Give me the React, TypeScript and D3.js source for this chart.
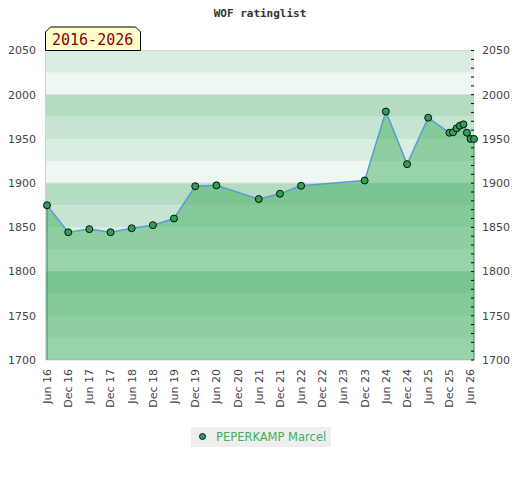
import * as d3 from 'd3';

// rating list entries, one per published list
const listDates = [
  '2016-06', '2016-12', '2017-06', '2017-12', '2018-06', '2018-12', '2019-06', '2019-12',
  '2020-06', '2021-06', '2021-12', '2022-06', '2023-12', '2024-06', '2024-12', '2025-06',
  '2025-12', '2026-01', '2026-02', '2026-03', '2026-04', '2026-05', '2026-06', '2026-07',
];
const ratings = [
  1875, 1844.5, 1848, 1844.5, 1849, 1852.5, 1860, 1896.5,
  1897.5, 1882, 1888, 1897, 1903, 1981, 1921.5, 1974,
  1957, 1957.5, 1962, 1965, 1966.5, 1957, 1950, 1950,
];

const xTicks = [
  '2016-06', '2016-12', '2017-06', '2017-12', '2018-06', '2018-12', '2019-06', '2019-12',
  '2020-06', '2020-12', '2021-06', '2021-12', '2022-06', '2022-12', '2023-06', '2023-12',
  '2024-06', '2024-12', '2025-06', '2025-12', '2026-06',
];
const yTicks = [1700, 1750, 1800, 1850, 1900, 1950, 2000, 2050];

const title = 'WOF ratinglist';
const period = '2016-2026';
const playerName = 'PEPERKAMP Marcel';

const W = 520;
const H = 480;
const margin = { top: 50.5, right: 46, bottom: 120, left: 46 };

// colours of the 25-point bands, from the top of each 100-block down
const bandColors = ['#b3dcc2', '#c6e5d1', '#daede1', '#eef7f1'];

const parse = d3.timeParse('%Y-%m');
const fmt = d3.timeFormat('%b %y');

export default function App() {
  const points = listDates.map((d, i) => ({ date: parse(d) as Date, rating: ratings[i] }));

  const x = d3.scaleTime()
    .domain(d3.extent(points, d => d.date) as [Date, Date])
    .range([margin.left + 1, W - margin.right]);

  const y = d3.scaleLinear()
    .domain([1700, 2050])
    .range([H - margin.bottom, margin.top]);

  const left = margin.left;
  const right = W - margin.right;

  const bands = d3.range(1700, 2050, 25).map(v => ({
    from: v,
    to: v + 25,
    color: bandColors[3 - ((v % 100) / 25)],
  }));

  const area = d3.area<{ date: Date; rating: number }>()
    .x(d => x(d.date))
    .y0(y(1700))
    .y1(d => y(d.rating));

  const line = d3.line<{ date: Date; rating: number }>()
    .x(d => x(d.date))
    .y(d => y(d.rating));

  const minorTicks = d3.range(1700, 2051, 10);
  const first = points[0];
  const last = points[points.length - 1];

  return (
    <svg width={W} height={H} style={{ position: 'absolute', left: 0, top: 0 }}
      fontFamily="DejaVu Sans">
      <rect width={W} height={H} fill="#fff" />

      <text x={W / 2} y={17} textAnchor="middle" fontFamily="DejaVu Sans Mono"
        fontWeight="bold" fontSize={11} fill="#333">{title}</text>

      {bands.map(b => (
        <rect key={b.from} x={left} width={right - left}
          y={y(b.to)} height={y(b.from) - y(b.to)} fill={b.color} />
      ))}

      {[1700, 1800, 1900, 2000, 2050].map(v => (
        <line key={v} x1={left} x2={right} y1={y(v)} y2={y(v)} stroke="#d4d4d4" />
      ))}
      <line x1={left - 0.5} x2={left - 0.5} y1={y(2050)} y2={y(1700)} stroke="#d4d4d4" />

      <path d={area(points) || ''} fill="rgb(61,172,90)" fillOpacity={0.48} />
      <line x1={x(first.date)} x2={x(first.date)} y1={y(first.rating)} y2={y(1700)}
        stroke="#2e8b57" />
      <line x1={x(last.date)} x2={x(last.date)} y1={y(last.rating)} y2={y(1700)}
        stroke="#2e8b57" />
      <path d={line(points) || ''} fill="none" stroke="#5b9bd5" strokeWidth={1.5} />

      {minorTicks.map(v => (
        <line key={v} x1={right - 3} x2={right} y1={y(v)} y2={y(v)} stroke="#000" />
      ))}

      {points.map((p, i) => (
        <circle key={i} cx={x(p.date)} cy={y(p.rating)} r={3.5}
          fill="#30a057" stroke="#000" strokeWidth={0.9} />
      ))}

      {yTicks.map(v => (
        <g key={v} fontSize={11} fill="#444">
          <text x={left - 10} y={y(v)} dy="0.35em" textAnchor="end">{v}</text>
          <text x={right + 8} y={y(v)} dy="0.35em" textAnchor="start">{v}</text>
        </g>
      ))}

      {xTicks.map(t => {
        const tx = x(parse(t) as Date);
        return (
          <text key={t} transform={`translate(${tx},369) rotate(-90)`} dy="0.35em"
            textAnchor="end" fontSize={11} fill="#444">{fmt(parse(t) as Date)}</text>
        );
      })}

      <g>
        <path d={`M45.5,50.5 V32 L50.5,27 H135.5 L140.5,32 V50.5 Z`}
          fill="#ffffcc" stroke="#000" />
        <text x={52} y={45} fontFamily="DejaVu Sans Mono" fontSize={15}
          fill="#8b0000">{period}</text>
      </g>

      <g>
        <rect x={191} y={427} width={140} height={20} fill="#eeeeee" />
        <circle cx={202.5} cy={436.5} r={3} fill="#30a057" stroke="#000" strokeWidth={0.9} />
        <text x={216} y={440.5} fontSize={11.5} fill="#3cb05e">{playerName}</text>
      </g>
    </svg>
  );
}
